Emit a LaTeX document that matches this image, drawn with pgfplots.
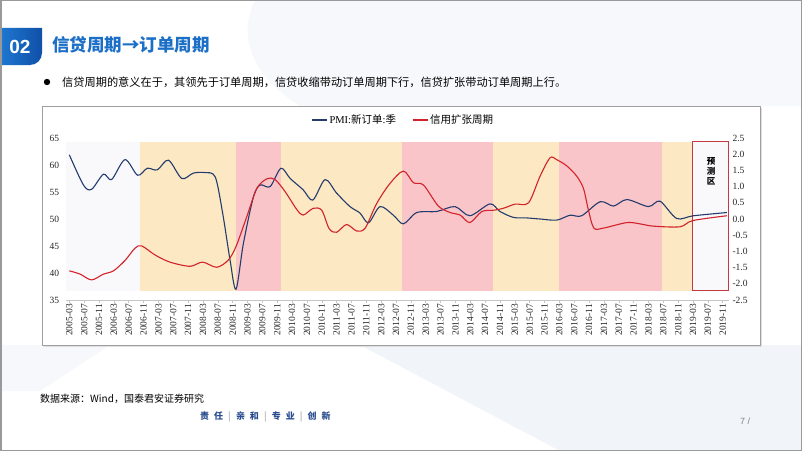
\documentclass[border=0pt]{standalone}
\usepackage{pgfplots}
\pgfplotsset{compat=1.18}
\usepackage{fontspec}
\setmainfont{Liberation Serif}
\newfontfamily\cjk{Noto Sans CJK SC}
\newfontfamily\arial{Liberation Sans}
\definecolor{pminavy}{HTML}{243B6E}
\definecolor{credred}{HTML}{D2232A}
\definecolor{bandY}{HTML}{FCE8C2}
\definecolor{bandR}{HTML}{F9C5C8}
\definecolor{bandG}{HTML}{F9F9FB}
\definecolor{titleblue}{HTML}{1C6FC6}
\definecolor{boxblueA}{HTML}{1F78D1}
\definecolor{boxblueB}{HTML}{0F4FA8}
\definecolor{footblue}{HTML}{2A4C8E}
\definecolor{bgA}{HTML}{F7F8FB}
\definecolor{bgB}{HTML}{F1F5FA}
\definecolor{boxred}{HTML}{C43A44}
\begin{document}
\begin{tikzpicture}[x=1pt,y=1pt]
\useasboundingbox (0,0) rectangle (802,451);
\fill[white] (0,0) rectangle (802,451);
% faint decoration
\fill[bgA] (255,451) .. controls (240,420) and (245,380) .. (300,345) -- (802,345) -- (802,451) -- cycle;
\fill[bgB] (360,106) -- (802,106) -- (802,0) -- (560,0) -- cycle;
\fill[bgA] (0,106) -- (110,106) -- (40,60) -- (0,60) -- cycle;
% header
\shade[left color=boxblueA, right color=boxblueB] (0,423) -- (42,423) [rounded corners=12pt] -- (42,386) [sharp corners] -- (0,386) -- cycle;
\node[anchor=center, text=white, font=\arial\bfseries\fontsize{19}{20}\selectfont] at (20,404.5) {02};
\node[anchor=west, text=titleblue, font=\cjk\bfseries\fontsize{17.5}{20}\selectfont, inner sep=0] at (52,406) {信贷周期→订单周期};
\fill[black] (47,369) circle (3.2);
\node[anchor=west, font=\cjk\fontsize{11.2}{13}\selectfont, inner sep=0] at (62,369) {信贷周期的意义在于，其领先于订单周期，信贷收缩带动订单周期下行，信贷扩张带动订单周期上行。};
% chart frame
\fill[gray!25] (44,104) rectangle (762,343);
\draw[gray!75, line width=0.8pt, fill=white] (42,106) rectangle (760,345);
\begin{axis}[
  at={(65.6pt,151pt)}, anchor=south west,
  scale only axis, width=663.4pt, height=162pt,
  xmin=-1, xmax=177.7, ymin=35, ymax=65,
  clip=false,
  axis x line*=bottom, axis y line*=left,
  y axis line style={draw=none},
  x axis line style={draw=gray!45, line width=0.6pt},
  xtick={0,4,...,176},
  xticklabels={2005-03,2005-07,2005-11,2006-03,2006-07,2006-11,2007-03,2007-07,2007-11,2008-03,2008-07,2008-11,2009-03,2009-07,2009-11,2010-03,2010-07,2010-11,2011-03,2011-07,2011-11,2012-03,2012-07,2012-11,2013-03,2013-07,2013-11,2014-03,2014-07,2014-11,2015-03,2015-07,2015-11,2016-03,2016-07,2016-11,2017-03,2017-07,2017-11,2018-03,2018-07,2018-11,2019-03,2019-07,2019-11},
  xticklabel style={rotate=90, anchor=east, font=\fontsize{9.5}{10}\selectfont, text=black!85, inner sep=1pt},
  xtick style={draw=gray!45, line width=0.5pt},
  major tick length=3pt,
  tick align=outside,
  ytick={35,40,...,65},
  yticklabels={35,40,45,50,55,60,65},
  yticklabel style={font=\fontsize{9.5}{10}\selectfont, text=black!85},
  ytick style={draw=none},
  legend style={at={(0.509,1.111)}, anchor=center, draw=none, fill=none, font=\fontsize{10.5}{12}\selectfont, legend columns=2, /tikz/every even column/.append style={column sep=14pt}},
  legend image code/.code={\draw[#1] (0pt,0pt) -- (15pt,0pt);},
]
\addplot[fill=bandG, draw=none, forget plot] coordinates {(-1,36.7) (19,36.7) (19,64.2) (-1,64.2)} -- cycle;
\addplot[fill=bandY, draw=none, forget plot] coordinates {(19,36.7) (44.9,36.7) (44.9,64.2) (19,64.2)} -- cycle;
\addplot[fill=bandR, draw=none, forget plot] coordinates {(44.9,36.7) (57,36.7) (57,64.2) (44.9,64.2)} -- cycle;
\addplot[fill=bandY, draw=none, forget plot] coordinates {(57,36.7) (89.7,36.7) (89.7,64.2) (57,64.2)} -- cycle;
\addplot[fill=bandR, draw=none, forget plot] coordinates {(89.7,36.7) (114,36.7) (114,64.2) (89.7,64.2)} -- cycle;
\addplot[fill=bandY, draw=none, forget plot] coordinates {(114,36.7) (132,36.7) (132,64.2) (114,64.2)} -- cycle;
\addplot[fill=bandR, draw=none, forget plot] coordinates {(132,36.7) (159.7,36.7) (159.7,64.2) (132,64.2)} -- cycle;
\addplot[fill=bandY, draw=none, forget plot] coordinates {(159.7,36.7) (167.9,36.7) (167.9,64.2) (159.7,64.2)} -- cycle;
\addplot[fill=bandG, draw=boxred, line width=1pt, forget plot] coordinates {(167.9,36.7) (177.6,36.7) (177.6,64.4) (167.9,64.4)} -- cycle;
\addplot[pminavy, line width=1.1pt, smooth, tension=0.5, no marks] coordinates {
(0,61.9) (3.8,56.3) (6,55.5) (9.2,58.3) (11.4,57.3) (15,61.0) (18.4,58.1) (21,59.4) (23.7,59.1) (26.7,60.9) (30.3,57.5) (33.4,58.5) (36.5,58.6) (39.3,57.8) (41.3,51.1) (43.3,42.4) (44.9,37.0) (46.9,45.5) (49.6,54.1) (51.4,56.3) (54.1,56.0) (57,59.4) (59.5,57.5) (63,55.4) (65.6,53.5) (68.9,57.3) (72,54.8) (75.6,52.3) (78.3,51.1) (80.6,49.3) (83.7,52.3) (87.3,50.7) (90,49.1) (93.6,51.2) (99,51.4) (103.9,52.3) (107.9,50.6) (113.3,52.8) (116,51.4) (119.6,50.3) (123.2,50.2) (126.8,50.0) (131.3,49.8) (134.9,50.7) (138,50.6) (143,53.2) (146.6,52.4) (150.2,53.6) (156,52.3) (159.1,53.3) (163.6,50.1) (168.1,50.6) (177.1,51.2)};
\addlegendentry{PMI:{\cjk 新订单}:{\cjk 季}}
\addlegendimage{credred, line width=1.1pt}
\addlegendentry{{\cjk 信用扩张周期}}
\end{axis}
\begin{axis}[
  at={(65.6pt,151pt)}, anchor=south west,
  scale only axis, width=663.4pt, height=162pt,
  xmin=-1, xmax=177.7, ymin=-2.5, ymax=2.5,
  axis y line*=right, axis x line=none,
  y axis line style={draw=none}, ytick style={draw=none},
  ytick={-2.5,-2,...,2.5},
  yticklabels={-2.5,-2.0,-1.5,-1.0,-0.5,0.0,0.5,1.0,1.5,2.0,2.5},
  yticklabel style={font=\fontsize{9.5}{10}\selectfont, text=black!85},
]
\addplot[credred, line width=1.1pt, smooth, tension=0.5, no marks] coordinates {
(0,-1.6) (2.9,-1.7) (6,-1.88) (9.2,-1.70) (11.9,-1.6) (15,-1.28) (17.7,-0.9) (19.5,-0.83) (23.1,-1.11) (27.1,-1.33) (32.5,-1.46) (35.9,-1.33) (39.7,-1.49) (42.8,-1.27) (44.9,-0.85) (47.8,0.07) (50.5,0.94) (53.2,1.24) (55.4,1.22) (58.1,0.85) (61.3,0.29) (63,0.12) (65.7,0.33) (68,0.27) (70,-0.3) (72,-0.41) (74.7,-0.17) (77.4,-0.37) (79.7,-0.28) (82.8,0.48) (86.4,1.1) (90,1.48) (92.7,1.12) (95.4,1.05) (99.4,0.40) (102.6,0.2) (105.3,0.12) (107.9,-0.11) (111.1,0.23) (114.2,0.27) (116.9,0.33) (120.1,0.46) (123.7,0.50) (126.8,1.32) (129.5,1.89) (131.3,1.83) (134,1.64) (136.7,1.32) (138.5,0.94) (139.8,0.29) (141.3,-0.28) (143.9,-0.28) (150.2,-0.11) (153.7,-0.15) (157.3,-0.22) (164.5,-0.24) (167.9,-0.05) (177.1,0.1)};
\end{axis}
\node[align=center, font=\cjk\bfseries\fontsize{8.5}{10}\selectfont, inner sep=0] at (711,279.3) {预\\测\\区};
% footer
\node[anchor=west, font=\cjk\fontsize{10}{12}\selectfont, inner sep=0] at (40,52) {数据来源：Wind，国泰君安证券研究};
\node[anchor=west, font=\cjk\bfseries\fontsize{9}{10}\selectfont, text=footblue, inner sep=0] at (200,34) {责\hspace{5pt}任\hspace{5pt}{\color{gray!50}|}\hspace{5pt}亲\hspace{5pt}和\hspace{5pt}{\color{gray!50}|}\hspace{5pt}专\hspace{5pt}业\hspace{5pt}{\color{gray!50}|}\hspace{5pt}创\hspace{5pt}新};
\node[anchor=west, font=\arial\fontsize{9}{10}\selectfont, text=gray, inner sep=0] at (740,30) {7 /};
\draw[gray!80, line width=1.5pt] (0.75,0.75) rectangle (801.25,450.25);
\end{tikzpicture}
\end{document}
